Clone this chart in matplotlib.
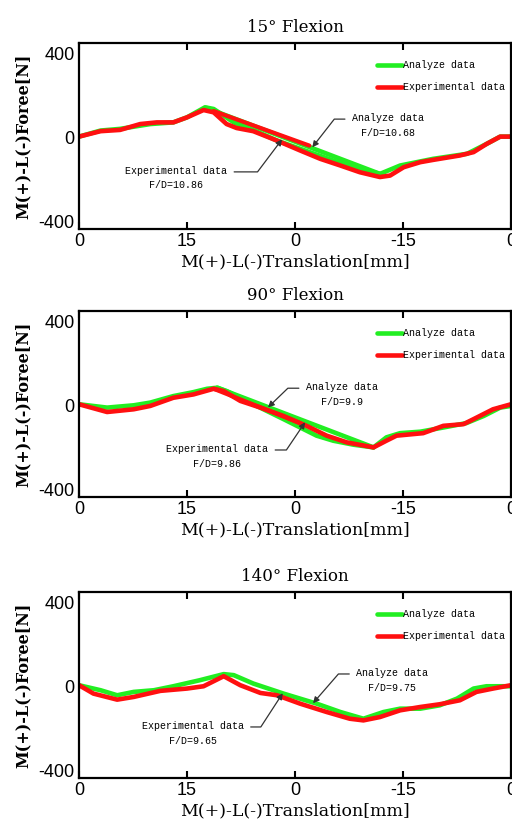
import matplotlib.pyplot as plt

# ------------------------------------------------------------
# Data
# ------------------------------------------------------------
titles = ["15° Flexion", "90° Flexion", "140° Flexion"]
xtick_pos = [30, 15, 0, -15, -30]
xtick_lab = ["0", "15", "0", "-15", "0"]
ytick_pos = [400, 0, -400]
ytick_lab = ["400", "0", "-400"]

# 15 deg
ana15_x = [30, 27.0, 24.3, 20.1, 16.9, 15.0, 12.5, 11.3, 8.5, 5.5, 2.5, -0.7, -5.3, -9.0, -11.8,
           -14.6, -19.2, -23.9, -26.6, -28.5, -30]
ana15_y = [3, 32, 40, 63, 71, 95, 143, 135, 71, 30, -16, -55, -111, -150, -175,
           -135, -103, -79, -32, 3, 3]
ana15_ret_x = [12.3, -11.8]
ana15_ret_y = [140, -175]
exp15_x = [30, 27.0, 24.3, 21.5, 19.2, 16.9, 15.0, 12.7, 11.3, 9.5, 8.1, 5.8, 2.5, -0.7, -3.5,
           -6.3, -9.0, -11.8, -13.2, -15.1, -17.4, -19.2, -22.9, -24.8, -26.6, -28.5, -30]
exp15_y = [3, 29, 35, 63, 71, 71, 95, 130, 119, 63, 44, 29, -16, -63, -103,
           -135, -167, -190, -183, -143, -119, -108, -87, -71, -32, 3, 3]
exp15_ret_x = [11.3, -2.0]
exp15_ret_y = [125, -40]

# 90 deg
ana90_x = [30, 26.1, 22.4, 20.1, 16.9, 14.1, 12.2, 10.8, 9.5, 5.8, 1.6, -3.0, -5.3, -8.1, -10.9,
           -12.7, -14.6, -17.4, -20.6, -23.8, -26.2, -28.5, -30]
ana90_y = [5, -11, 0, 13, 44, 63, 79, 84, 68, 5, -66, -145, -169, -188, -201,
           -153, -133, -126, -106, -85, -51, -11, -3]
ana90_ret_x = [10.8, -10.9]
ana90_ret_y = [84, -201]
exp90_x = [30, 26.1, 22.4, 20.1, 16.9, 14.1, 11.3, 9.9, 7.6, 4.8, 1.6, -1.6, -4.4, -7.2, -10.9,
           -12.7, -14.1, -17.8, -20.6, -23.4, -24.8, -27.5, -30]
exp90_y = [5, -32, -19, -3, 36, 52, 79, 68, 21, -11, -51, -98, -145, -177, -201,
           -169, -145, -133, -98, -90, -66, -19, 5]
exp90_ret_x = [11.3, -0.7]
exp90_ret_y = [79, -85]

# 140 deg
ana140_x = [30, 27.0, 24.7, 22.4, 19.6, 16.9, 13.2, 9.9, 8.5, 5.8, 1.6, -3.0, -6.3, -9.5,
            -12.3, -14.6, -17.4, -20.1, -22.5, -24.8, -26.6, -30]
ana140_y = [5, -19, -43, -27, -19, 0, 29, 58, 53, 13, -35, -83, -123, -155,
            -123, -107, -107, -91, -59, -11, 0, 0]
exp140_x = [30, 28.0, 24.7, 22.4, 18.7, 15.0, 12.7, 9.9, 7.6, 4.8, 2.5, -0.7, -4.4, -7.6, -9.5,
            -11.8, -14.6, -17.4, -20.1, -22.9, -25.2, -27.5, -30]
exp140_y = [5, -35, -64, -51, -22, -11, 0, 48, 5, -32, -43, -83, -123, -155, -163,
            -147, -115, -99, -86, -67, -27, -11, 5]

ana_fd = ["10.68", "9.9", "9.75"]
exp_fd = ["10.86", "9.86", "9.65"]

# annotation placement: (text x, text y, head x, head y, angle)
ana_note = [(-12.9, 57, -2.4, -48, 52), (-6.5, 52, 3.75, -10, 44), (-13.5, 29, -2.5, -81, 49)]
exp_note = [(16.5, -195, 1.8, -10, 53), (10.8, -243, -1.4, -81, 56), (14.2, -224, 1.7, -33, 57)]

series = [
    (ana15_x, ana15_y, ana15_ret_x, ana15_ret_y, exp15_x, exp15_y, exp15_ret_x, exp15_ret_y),
    (ana90_x, ana90_y, ana90_ret_x, ana90_ret_y, exp90_x, exp90_y, exp90_ret_x, exp90_ret_y),
    (ana140_x, ana140_y, [], [], exp140_x, exp140_y, [], []),
]

# ------------------------------------------------------------
# Figure
# ------------------------------------------------------------
green = "#22ee22"
red = "#ff1010"
mono = "Liberation Mono"
serif = "DejaVu Serif"

fig = plt.figure(figsize=(5.12, 8.21), dpi=100)
bottoms = [0.7211, 0.3946, 0.0524]

for k in range(3):
    ax = fig.add_axes([0.1543, bottoms[k], 0.84375, 0.2260])
    ax_x, ax_y, ar_x, ar_y, ex_x, ex_y, er_x, er_y = series[k]

    ax.plot(ax_x, ax_y, color=green, lw=3.3, solid_capstyle="round", label="Analyze data")
    if ar_x:
        ax.plot(ar_x, ar_y, color=green, lw=3.3, solid_capstyle="round")
    ax.plot(ex_x, ex_y, color=red, lw=3.3, solid_capstyle="round", label="Experimental data")
    if er_x:
        ax.plot(er_x, er_y, color=red, lw=3.0, solid_capstyle="round")

    ax.set_xlim(30, -30)
    ax.set_ylim(-438, 448)
    ax.set_xticks(xtick_pos)
    ax.set_xticklabels(xtick_lab, family="Liberation Sans", fontsize=13)
    ax.set_yticks(ytick_pos)
    ax.set_yticklabels(ytick_lab, family="Liberation Sans", fontsize=13)
    ax.tick_params(axis="x", direction="in", top=True, length=5, width=1.5, pad=3)
    ax.tick_params(axis="y", length=0, pad=3)
    for s in ax.spines.values():
        s.set_linewidth(1.6)

    ax.set_title(titles[k], family=serif, fontsize=12, pad=8)
    ax.set_xlabel("M(+)-L(-)Translation[mm]", family=serif, fontsize=12.5, labelpad=2)
    ax.set_ylabel("M(+)-L(-)Foree[N]", family=serif, fontsize=11.5, fontweight="bold", labelpad=5)

    ax.legend(loc="upper left", bbox_to_anchor=(0.69, 0.91), frameon=False,
              prop={"family": mono, "size": 7.2}, handlelength=2.5, handletextpad=0.1,
              labelspacing=1.2, borderpad=0, borderaxespad=0)

    tx, ty, hx, hy, ang = ana_note[k]
    ax.annotate("Analyze data\nF/D=" + ana_fd[k], xy=(hx, hy), xytext=(tx, ty),
                ha="center", va="center", family=mono, fontsize=7.2, linespacing=1.6,
                arrowprops=dict(arrowstyle="-|>", color="#333333", lw=0.9,
                                mutation_scale=9, relpos=(0, 0.75), shrinkA=3, shrinkB=0,
                                connectionstyle="angle,angleA=0,angleB=%d,rad=0" % ang))
    tx, ty, hx, hy, ang = exp_note[k]
    ax.annotate("Experimental data\nF/D=" + exp_fd[k], xy=(hx, hy), xytext=(tx, ty),
                ha="center", va="center", family=mono, fontsize=7.2, linespacing=1.6,
                arrowprops=dict(arrowstyle="-|>", color="#333333", lw=0.9,
                                mutation_scale=9, relpos=(1, 0.75), shrinkA=3, shrinkB=0,
                                connectionstyle="angle,angleA=0,angleB=%d,rad=0" % ang))

fig.savefig("out.png", dpi=100)
